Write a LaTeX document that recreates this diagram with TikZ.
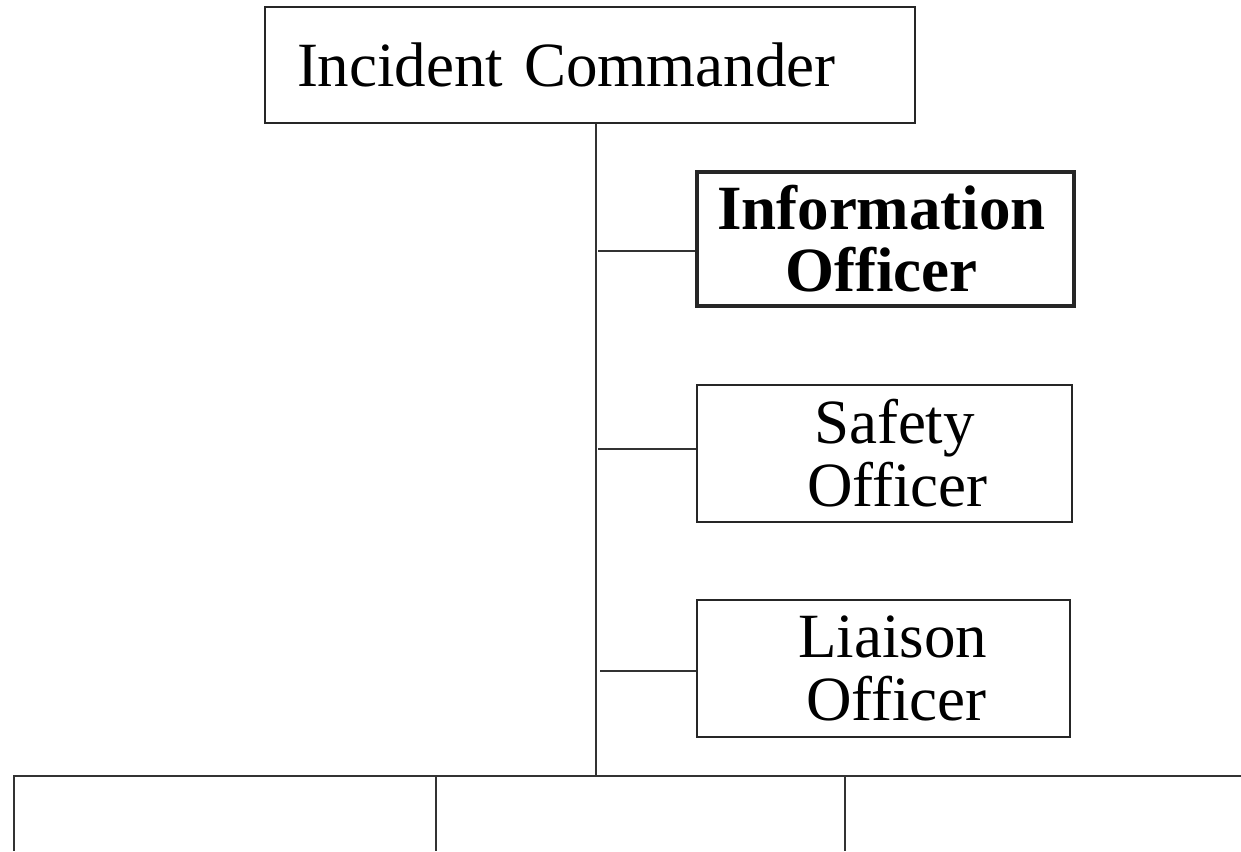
\documentclass[tikz,border=0pt]{standalone}
\usepackage{fontspec}
\setmainfont{Liberation Serif}
\usetikzlibrary{calc}
\begin{document}
\begin{tikzpicture}[x=1pt,y=-1pt,
  box/.style={draw=black!85, line width=1.2pt, rectangle, inner sep=0pt, font=\fontsize{63}{63}\selectfont, align=center},
  thickbox/.style={box, line width=3.5pt, font=\fontsize{63}{62}\selectfont\bfseries},
  conn/.style={draw=black!80, line width=1.1pt}]
\useasboundingbox (0,0) rectangle (1241,851);
\node[box, minimum width=650pt, minimum height=116pt, text width=586pt, inner xsep=32pt, align=left] (ic) at (590,65) {Incident Commander};
\node[thickbox, minimum width=377pt, minimum height=134pt] (info) at (885.5,239) {\hspace*{-8pt}Information\\\hspace*{-8pt}Officer};
\node[box, minimum width=375pt, minimum height=137pt] (safety) at (884.5,453.5) {\hspace*{20pt}Safety\\\hspace*{26pt}Officer};
\node[box, minimum width=373pt, minimum height=137pt] (liaison) at (883.5,668.5) {\hspace*{18pt}Liaison\\\hspace*{26pt}Officer};
\coordinate (trunktop) at ($(ic.south)+(6,0)$);
\coordinate (trunkbot) at (596,776);
\coordinate (busL) at (13,776);
\coordinate (busR) at (1241,776);
\coordinate (d1) at (14,851);
\coordinate (d2) at (436,851);
\coordinate (d3) at (845,851);
\draw[conn] (trunktop) -- (trunkbot);
\draw[conn] (598,251) coordinate (b1) -- (b1 -| info.west);
\draw[conn] (598,449) coordinate (b2) -- (b2 -| safety.west);
\draw[conn] (600,671) coordinate (b3) -- (b3 -| liaison.west);
\draw[conn, line width=2pt] (busL) -- (busR);
\draw[conn, line width=1.8pt] (d1 |- busL) -- (d1);
\draw[conn] (d2 |- busL) -- (d2);
\draw[conn] (d3 |- busL) -- (d3);
\end{tikzpicture}
\end{document}
